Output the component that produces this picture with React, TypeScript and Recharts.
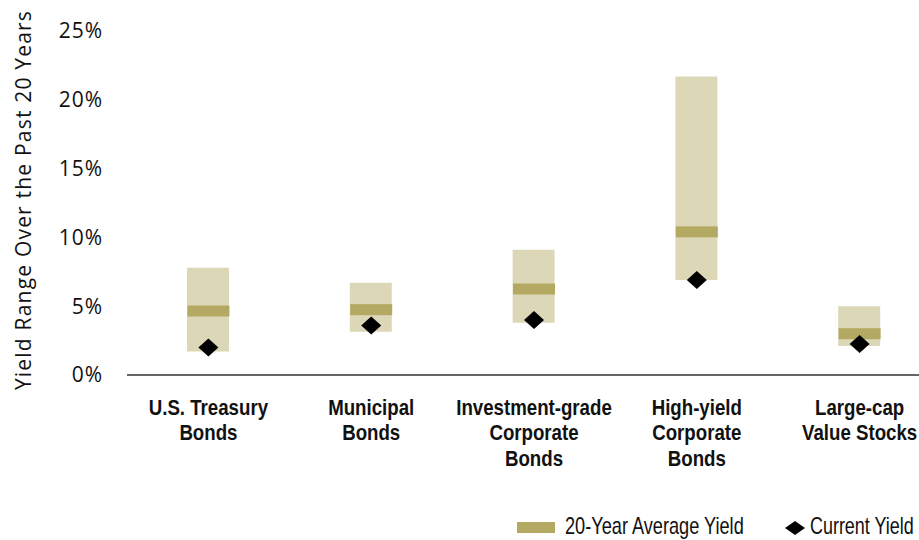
import { Bar, ComposedChart, Legend, Scatter, XAxis, YAxis } from "recharts";

const categories = [
  "U.S. Treasury\nBonds",
  "Municipal\nBonds",
  "Investment-grade\nCorporate\nBonds",
  "High-yield\nCorporate\nBonds",
  "Large-cap\nValue Stocks",
];
const rangeLow = [1.7, 3.15, 3.8, 6.9, 2.1];
const rangeHigh = [7.8, 6.7, 9.1, 21.7, 5.0];
const avgYield = [4.65, 4.75, 6.25, 10.4, 3.0];
const currentYield = [2.0, 3.6, 4.0, 6.9, 2.25];
const yTicks = [0, 5, 10, 15, 20, 25];

const data = categories.map((name, i) => ({
  name,
  low: rangeLow[i],
  high: rangeHigh[i],
  avg: avgYield[i],
  current: currentYield[i],
}));

const BAR_W = 42;
const RANGE = "#DCD7B6";
const AVG = "#B3A962";
const SANS = "'Liberation Sans', Arial, sans-serif";
const REG = "'Open Sans', 'Liberation Sans', sans-serif";

function AvgMark(props: any) {
  const { cx, cy } = props;
  return <rect x={cx - BAR_W / 2} y={cy - 5.5} width={BAR_W} height={11} fill={AVG} />;
}

function Diamond(props: any) {
  const { cx, cy } = props;
  return <polygon points={`${cx},${cy - 9} ${cx + 10},${cy} ${cx},${cy + 9} ${cx - 10},${cy}`} fill="#000" />;
}

// condensed bold look: squeeze a regular bold face horizontally
function CatTick(props: any) {
  const { x, y, payload } = props;
  const lines = String(payload.value).split("\n");
  return (
    <g transform={`translate(${x}, ${y + 38}) scale(0.83, 1)`}>
      <text x={0} y={0} textAnchor="middle" fontFamily={SANS} fontWeight={700} fontSize={22.5} fill="#111">
        {lines.map((l, i) => (
          <tspan key={i} x={0} dy={i === 0 ? 0 : 25.5}>
            {l}
          </tspan>
        ))}
      </text>
    </g>
  );
}

function YLabel(props: any) {
  const { viewBox } = props;
  const cy = viewBox.y + viewBox.height / 2 - 3;
  return (
    <text
      x={31}
      y={cy}
      transform={`rotate(-90, 31, ${cy})`}
      textAnchor="middle"
      fontFamily={REG}
      fontSize={21}
      letterSpacing={1.2}
      fill="#111"
    >
      Yield Range Over the Past 20 Years
    </text>
  );
}

function LegendBox() {
  return (
    <svg width={400} height={30} style={{ display: "block" }}>
      <rect x={0} y={12} width={38} height={11} fill={AVG} />
      <g transform="translate(48, 24) scale(0.79, 1)">
        <text x={0} y={0} fontFamily={SANS} fontSize={23} fill="#111">
          20-Year Average Yield
        </text>
      </g>
      <polygon points="278,11 288,18 278,25 268,18" fill="#000" />
      <g transform="translate(293, 24) scale(0.78, 1)">
        <text x={0} y={0} fontFamily={SANS} fontSize={23} fill="#111">
          Current Yield
        </text>
      </g>
    </svg>
  );
}

export default function App() {
  return (
    <div style={{ position: "absolute", left: 0, top: 0, width: 919, height: 540, overflow: "hidden", background: "#fff" }}>
      <ComposedChart width={960} height={540} data={data} margin={{ top: 31, right: 19, left: 0, bottom: 0 }}>
        <XAxis
          dataKey="name"
          interval={0}
          height={135}
          tick={<CatTick />}
          tickLine={false}
          tickSize={0}
          axisLine={{ stroke: "#333", strokeWidth: 1.6 }}
        />
        <YAxis
          domain={[0, 25]}
          ticks={yTicks}
          width={127}
          axisLine={false}
          tickLine={false}
          tickSize={0}
          tickMargin={24}
          tickFormatter={(v) => `${v}%`}
          tick={{ fontFamily: REG, fontSize: 21, fill: "#111", letterSpacing: 1 }}
          label={<YLabel />}
        />
        <Legend verticalAlign="bottom" height={30} content={<LegendBox />} wrapperStyle={{ left: 517, width: 400, top: 510 }} />
        <Bar dataKey={(d: any) => [d.low, d.high]} barSize={BAR_W} fill={RANGE} isAnimationActive={false} />
        <Scatter dataKey="avg" shape={<AvgMark />} isAnimationActive={false} />
        <Scatter dataKey="current" shape={<Diamond />} isAnimationActive={false} />
      </ComposedChart>
    </div>
  );
}
